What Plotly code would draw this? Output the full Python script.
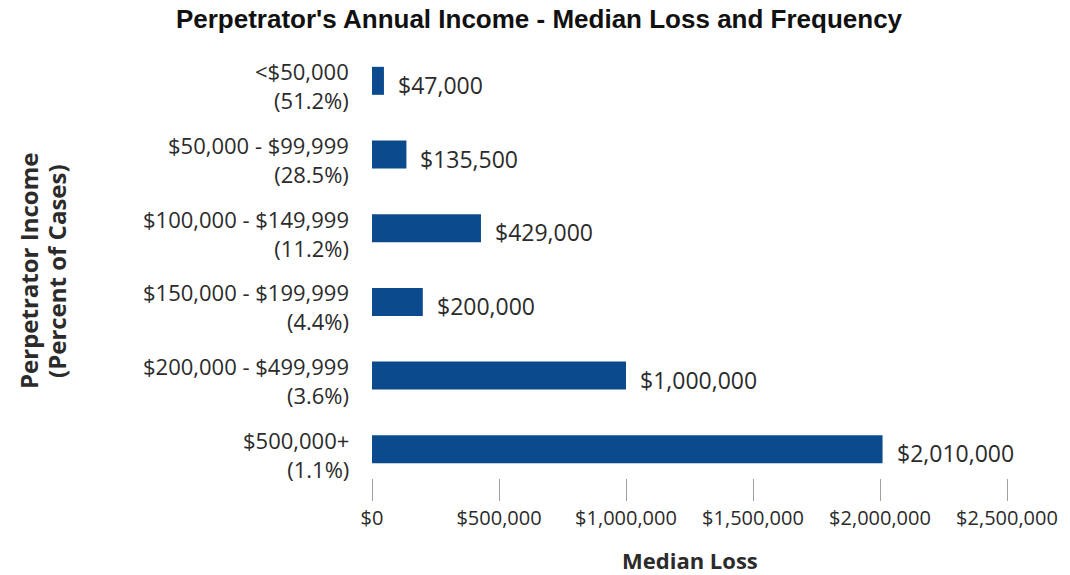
import plotly.graph_objects as go

# Income brackets (top to bottom) and their share of cases
brackets = ["<$50,000", "$50,000 - $99,999", "$100,000 - $149,999",
            "$150,000 - $199,999", "$200,000 - $499,999", "$500,000+"]
case_share = ["51.2%", "28.5%", "11.2%", "4.4%", "3.6%", "1.1%"]
median_loss = [47000, 135500, 429000, 200000, 1000000, 2010000]

x_ticks = [0, 500000, 1000000, 1500000, 2000000, 2500000]
x_tick_text = ["$0", "$500,000", "$1,000,000", "$1,500,000", "$2,000,000", "$2,500,000"]

W, H = 1070, 575
L, R, T, B = 372, 63, 44, 97
plot_w = W - L - R
plot_h = H - T - B

y_pos = list(range(len(brackets)))

BAR = "#0b4a8c"
TXT = "#2b2b2b"
FONT = "Open Sans, Lato, sans-serif"

fig = go.Figure(go.Bar(
    x=median_loss, y=y_pos, orientation="h",
    marker=dict(color=BAR, line=dict(width=0)),
    width=0.38, hoverinfo="skip",
))

# value labels to the right of each bar
for v, y in zip(median_loss, y_pos):
    fig.add_annotation(x=v, y=y, xref="x", yref="y", text=f"${v:,}",
                       showarrow=False, xanchor="left", xshift=12, yshift=-4,
                       font=dict(family=FONT, size=23, color=TXT))

# category labels: bracket on the first line, share of cases below it
for b, s, y in zip(brackets, case_share, y_pos):
    fig.add_annotation(x=0, y=y, xref="paper", yref="y", text=f"{b}<br>({s})",
                       showarrow=False, xanchor="right", yanchor="middle", align="right",
                       xshift=-21, yshift=-5,
                       font=dict(family=FONT, size=22, color=TXT))

# y-axis title (two bold lines, rotated)
for line, px in [("Perpetrator Income", 28), ("(Percent of Cases)", 56)]:
    fig.add_annotation(x=-(L - px) / plot_w, y=(H - B - 271) / plot_h,
                       xref="paper", yref="paper", text=f"<b>{line}</b>",
                       textangle=-90, showarrow=False, xanchor="center", yanchor="middle",
                       font=dict(family=FONT, size=24, color=TXT))

# x-axis title
fig.add_annotation(x=0.5, y=-(560 - (H - B)) / plot_h, xref="paper", yref="paper",
                   text="<b>Median Loss</b>", showarrow=False,
                   xanchor="center", yanchor="middle",
                   font=dict(family=FONT, size=22, color=TXT))

fig.update_layout(
    width=W, height=H,
    margin=dict(l=L, r=R, t=T, b=B),
    plot_bgcolor="white", paper_bgcolor="white",
    showlegend=False,
    title=dict(text="<b>Perpetrator's Annual Income - Median Loss and Frequency</b>",
               x=(539 - L) / plot_w, xref="paper", xanchor="center",
               y=1 - 19 / H, yanchor="middle",
               font=dict(family="Liberation Sans, Arial, sans-serif", size=26, color="#111111")),
    xaxis=dict(range=[0, 2500000], tickvals=x_ticks, ticktext=x_tick_text,
               showgrid=False, zeroline=False, showline=False,
               ticks="outside", ticklen=22, tickcolor="#a0a0a0", tickwidth=1,
               tickfont=dict(family=FONT, size=20, color=TXT)),
    yaxis=dict(range=[5.39, -0.5], showticklabels=False,
               showgrid=False, zeroline=False, showline=False, ticks=""),
)

fig.write_html("out.html")
